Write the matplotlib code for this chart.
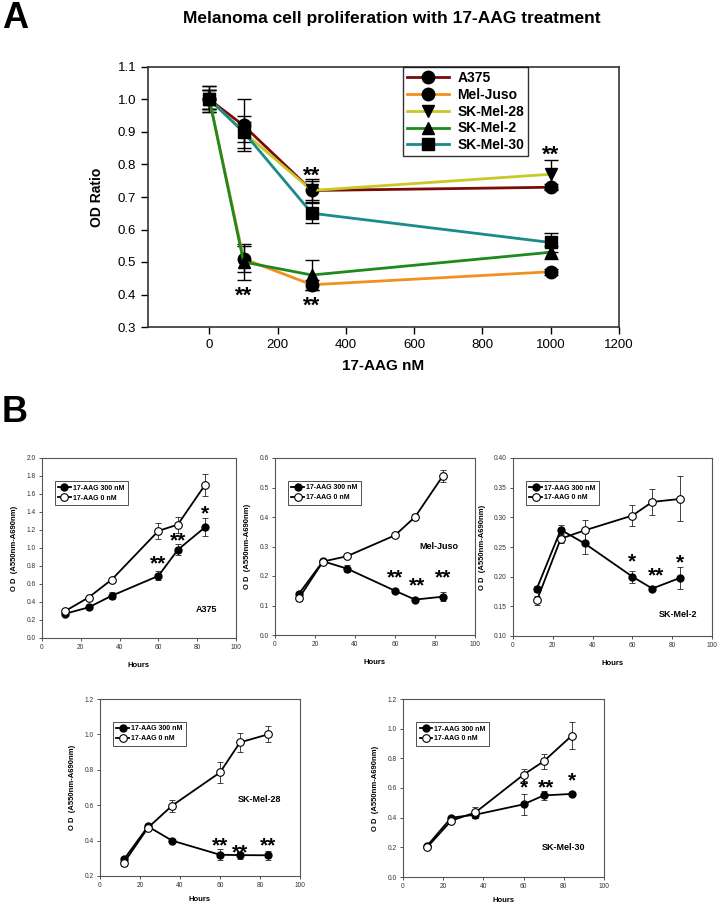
import matplotlib
matplotlib.use("Agg")
import matplotlib.pyplot as plt
from matplotlib.ticker import FormatStrFormatter

plt.rcParams['font.family'] = ['Liberation Sans', 'DejaVu Sans']

# ---------------- Panel A data ----------------
doses = [0, 100, 300, 1000]
a_names = ["A375", "Mel-Juso", "SK-Mel-28", "SK-Mel-2", "SK-Mel-30"]
a375 = [1.00, 0.92, 0.72, 0.73]
a375_err = [0.04, 0.08, 0.03, 0.01]
meljuso = [1.00, 0.51, 0.43, 0.47]
meljuso_err = [0.04, 0.04, 0.015, 0.01]
skmel28 = [1.00, 0.90, 0.72, 0.77]
skmel28_err = [0.03, 0.05, 0.035, 0.045]
skmel2 = [1.00, 0.50, 0.46, 0.53]
skmel2_err = [0.03, 0.055, 0.045, 0.02]
skmel30 = [1.00, 0.90, 0.65, 0.56]
skmel30_err = [0.03, 0.03, 0.03, 0.03]
a_colors = ["#7a0a0a", "#f0901e", "#c8c828", "#1e8a1e", "#1a8a8a"]
a_markers = ["o", "o", "v", "^", "s"]
a_stars = [(300, 0.765), (100, 0.395), (300, 0.365), (1000, 0.83)]

# ---------------- Panel B data ----------------
hours = [12, 24, 36, 60, 70, 84]
b_names = ["A375", "Mel-Juso", "SK-Mel-2", "SK-Mel-28", "SK-Mel-30"]
b_treat = [
    [0.27, 0.34, 0.47, 0.69, 0.98, 1.23],
    [0.14, 0.25, 0.225, 0.15, 0.12, 0.13],
    [0.18, 0.279, 0.256, 0.20, 0.18, 0.198],
    [0.294, 0.48, 0.40, 0.32, 0.318, 0.317],
    [0.21, 0.40, 0.42, 0.49, 0.55, 0.56],
]
b_treat_err = [
    [0.02, 0.02, 0.04, 0.05, 0.06, 0.10],
    [0.005, 0.005, 0.012, 0.006, 0.005, 0.015],
    [0.005, 0.008, 0.017, 0.01, 0.004, 0.018],
    [0.01, 0.01, 0.01, 0.03, 0.02, 0.025],
    [0.01, 0.01, 0.02, 0.07, 0.03, 0.015],
]
b_ctrl = [
    [0.30, 0.45, 0.65, 1.19, 1.26, 1.70],
    [0.125, 0.249, 0.267, 0.338, 0.40, 0.54],
    [0.16, 0.264, 0.278, 0.303, 0.326, 0.331],
    [0.275, 0.473, 0.597, 0.785, 0.955, 1.0],
    [0.20, 0.38, 0.435, 0.69, 0.78, 0.953],
]
b_ctrl_err = [
    [0.02, 0.02, 0.02, 0.09, 0.09, 0.12],
    [0.01, 0.005, 0.005, 0.006, 0.01, 0.02],
    [0.008, 0.008, 0.018, 0.018, 0.022, 0.038],
    [0.02, 0.01, 0.035, 0.06, 0.055, 0.045],
    [0.01, 0.01, 0.04, 0.04, 0.05, 0.09],
]
b_ylims = [(0, 2.0), (0, 0.6), (0.10, 0.40), (0.2, 1.2), (0, 1.2)]
b_yticks = [
    [0.0, 0.2, 0.4, 0.6, 0.8, 1.0, 1.2, 1.4, 1.6, 1.8, 2.0],
    [0.0, 0.1, 0.2, 0.3, 0.4, 0.5, 0.6],
    [0.10, 0.15, 0.20, 0.25, 0.30, 0.35, 0.40],
    [0.2, 0.4, 0.6, 0.8, 1.0, 1.2],
    [0.0, 0.2, 0.4, 0.6, 0.8, 1.0, 1.2],
]
b_yfmt = ["%.1f", "%.1f", "%.2f", "%.1f", "%.1f"]
b_label_pos = [(85, 0.32), (82, 0.30), (83, 0.137), (80, 0.63), (80, 0.20)]
b_stars = [
    [(60, 0.82, "**"), (70, 1.08, "**"), (84, 1.38, "*")],
    [(60, 0.195, "**"), (71, 0.165, "**"), (84, 0.195, "**")],
    [(60, 0.225, "*"), (72, 0.202, "**"), (84, 0.223, "*")],
    [(60, 0.37, "**"), (70, 0.33, "**"), (84, 0.37, "**")],
    [(60, 0.60, "*"), (71, 0.60, "**"), (84, 0.65, "*")],
]
b_legend_labels = ["17-AAG 300 nM", "17-AAG 0 nM"]

W, H = 723, 906
fig = plt.figure(figsize=(W / 100, H / 100), dpi=100)


def rect(l, r, t, b):
    return [l / W, 1 - b / H, (r - l) / W, (b - t) / H]


# ---------------- Panel A ----------------
ax = fig.add_axes(rect(148, 619, 67, 327))
a_series = [a375, meljuso, skmel28, skmel2, skmel30]
a_errs = [a375_err, meljuso_err, skmel28_err, skmel2_err, skmel30_err]
for name, ys, es, c, m in zip(a_names, a_series, a_errs, a_colors, a_markers):
    ax.errorbar(doses, ys, yerr=es, fmt='none', ecolor='black', elinewidth=1,
                capsize=5, capthick=1, zorder=2)
    ax.plot(doses, ys, color=c, lw=2, marker=m, markersize=9,
            markerfacecolor='black', markeredgecolor='black', label=name, zorder=3)
for x, y in a_stars:
    ax.text(x, y, "**", ha='center', va='center', fontsize=16, fontweight='bold')
ax.set_xlim(-180, 1200)
ax.set_ylim(0.3, 1.1)
ax.set_xticks([0, 200, 400, 600, 800, 1000, 1200])
ax.set_yticks([0.3, 0.4, 0.5, 0.6, 0.7, 0.8, 0.9, 1.0, 1.1])
ax.yaxis.set_major_formatter(FormatStrFormatter('%.1f'))
ax.tick_params(direction='out', labelsize=9.5, length=5, width=1)
for s in ax.spines.values():
    s.set_linewidth(1.2)
    s.set_color('#333333')
ax.set_xlabel("17-AAG nM", fontsize=11, fontweight='bold', labelpad=6)
ax.set_ylabel("OD Ratio", fontsize=10, fontweight='bold', labelpad=10)
leg = ax.legend(loc='upper left', bbox_to_anchor=((403 - 148) / 471, 1.0),
                prop={'weight': 'bold', 'size': 10}, frameon=True,
                fancybox=False, edgecolor='black', handlelength=3,
                borderpad=0.3, labelspacing=0.2, handletextpad=0.6, borderaxespad=0)
leg.get_frame().set_linewidth(1)
fig.text(392 / W, 1 - 18 / H, "Melanoma cell proliferation with 17-AAG treatment",
         ha='center', va='center', fontsize=12.5, fontweight='bold')
fig.text(2 / W, 1 - 18 / H, "A", ha='left', va='center', fontsize=26, fontweight='bold')
fig.text(2 / W, 1 - 413 / H, "B", ha='left', va='center', fontsize=26, fontweight='bold')

# ---------------- Panel B ----------------
b_rects = [
    rect(42, 236, 458, 638),
    rect(275, 475, 458, 635),
    rect(513, 712, 458, 636),
    rect(100, 300, 699, 876),
    rect(403, 604, 699, 877),
]
for i in range(5):
    bx = fig.add_axes(b_rects[i])
    bx.errorbar(hours, b_treat[i], yerr=b_treat_err[i], fmt='none', ecolor='#222222',
                elinewidth=0.6, capsize=2.5, capthick=0.6, zorder=2)
    bx.errorbar(hours, b_ctrl[i], yerr=b_ctrl_err[i], fmt='none', ecolor='#222222',
                elinewidth=0.6, capsize=2.5, capthick=0.6, zorder=2)
    bx.plot(hours, b_treat[i], color='black', lw=1.3, marker='o', markersize=5,
            markerfacecolor='black', markeredgecolor='black', zorder=3,
            label=b_legend_labels[0])
    bx.plot(hours, b_ctrl[i], color='black', lw=1.3, marker='o', markersize=5.5,
            markerfacecolor='white', markeredgecolor='black', markeredgewidth=0.8,
            zorder=4, label=b_legend_labels[1])
    bx.set_xlim(0, 100)
    bx.set_ylim(*b_ylims[i])
    bx.set_xticks([0, 20, 40, 60, 80, 100])
    bx.set_yticks(b_yticks[i])
    bx.yaxis.set_major_formatter(FormatStrFormatter(b_yfmt[i]))
    bx.tick_params(direction='out', labelsize=4.8, length=2.5, width=0.6,
                   colors='#333333', pad=2)
    for s in bx.spines.values():
        s.set_linewidth(0.8)
        s.set_color('#555555')
    bx.set_xlabel("Hours", fontsize=5.5, fontweight='bold',
                  labelpad=8 if i < 3 else 5)
    bx.set_ylabel("O D  (A550nm-A690nm)", fontsize=5.5, fontweight='bold', labelpad=6)
    lx, ly = b_label_pos[i]
    bx.text(lx, ly, b_names[i], ha='center', va='center', fontsize=6.5,
            fontweight='bold')
    for sx, sy, st in b_stars[i]:
        bx.text(sx, sy, st, ha='center', va='center', fontsize=15, fontweight='bold')
    lg = bx.legend(loc='upper left', bbox_to_anchor=(0.065, 0.87),
                   frameon=True, fancybox=False, edgecolor='black', handlelength=1.8,
                   borderpad=0.5, labelspacing=0.4, handletextpad=0.3,
                   borderaxespad=0, prop={'size': 5, 'weight': 'bold'})
    lg.get_frame().set_linewidth(0.6)

fig.savefig("out.png", dpi=100)
